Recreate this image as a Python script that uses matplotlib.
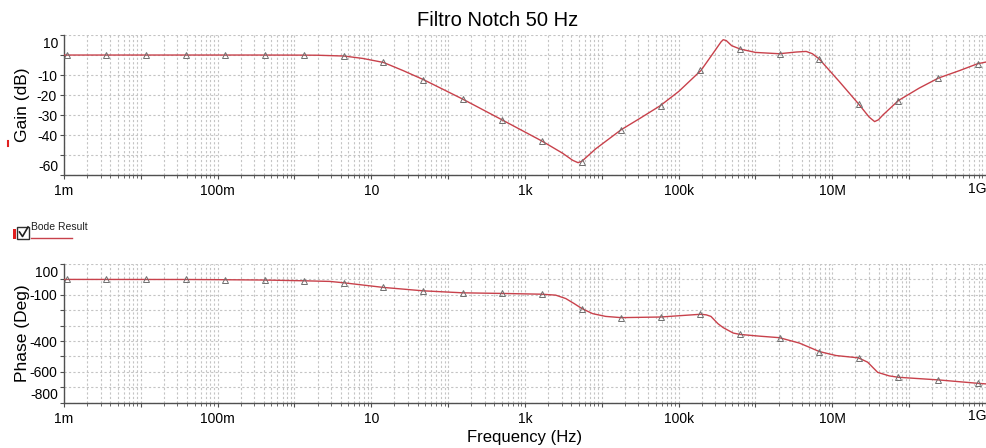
import matplotlib
matplotlib.use('Agg')
import matplotlib.pyplot as plt
from matplotlib.ticker import FixedLocator, FixedFormatter, LogLocator, NullFormatter
import matplotlib.transforms as mtransforms
from matplotlib.lines import Line2D
from matplotlib.patches import Rectangle

plt.rcParams['font.family'] = ['Liberation Sans', 'DejaVu Sans']

# ---------------- data ----------------
gain_freq = [1e-3, 0.316, 1.343, 2.0, 4.41, 7.76, 14.4, 25.7, 47.9, 155, 501, 1660,
             3090, 4170, 4900, 5500, 8320, 17800, 31600, 57500, 1e5, 195000, 282000,
             355000, 380000, 417000, 490000, 631000, 1e6, 2.04e6, 3.39e6, 4.57e6,
             5.5e6, 6.76e6, 1.23e7, 2.19e7, 3.02e7, 3.55e7, 3.98e7, 4.57e7, 7.24e7,
             1.35e8, 2.4e8, 4.57e8, 7.76e8, 1e9]
gain_db = [0, 0, -0.05, -0.1, -0.5, -1.7, -3.7, -7.7, -12.3, -22, -32.3, -42.9,
           -49, -52.5, -53.7, -53, -46.8, -37.3, -31.5, -25.3, -18.2, -7.7, 1.0,
           6.5, 7.65, 7.2, 4.65, 3.0, 1.3, 0.65, 1.5, 1.8,
           0.65, -2.0, -13.2, -24.35, -31, -33.2, -32.3, -29.85, -22.7,
           -16.5, -11.5, -7.7, -4.35, -3.5]

phase_freq = [1e-3, 0.04, 0.126, 0.41, 1.343, 2.88, 4.41, 7.94, 14.4, 47.3, 155, 508,
              1663, 2510, 3390, 4370, 5500, 7590, 11200, 17800, 57500, 195000,
              229000, 263000, 324000, 380000, 513000, 631000, 1.12e6, 2.04e6,
              3.72e6, 5.01e6, 6.76e6, 1.12e7, 2.19e7, 2.88e7, 3.89e7, 5.5e7, 7.24e7,
              2.4e8, 7.76e8, 1e9]
phase_deg = [0, -0.5, -2, -4, -9, -13, -22, -37, -52, -74, -87, -91,
             -96, -102, -124, -157, -189, -222, -240, -248, -244, -226,
             -230, -240, -287, -313, -348, -357, -368, -378,
             -413, -440, -468, -494, -509, -537, -603, -626, -635,
             -652, -674, -678]

marker_freq = [1.084e-3, 3.55e-3, 1.164e-2, 3.82e-2, 0.125, 0.41, 1.343, 4.41, 14.4,
               47.3, 155, 508, 1663, 5458, 17870, 58600, 191900, 629500, 2.06e6,
               6.76e6, 2.213e7, 7.26e7, 2.377e8, 7.80e8]
marker_gain = [0, 0, 0, 0, 0, 0, -0.05, -0.5, -3.7, -12.3, -22, -32.3, -42.9, -53.2,
               -37.3, -25.3, -7.7, 3.0, 0.65, -2.0, -24.35, -22.7, -11.5, -4.35]
marker_phase = [0, 0, 0, -0.5, -2, -4, -9, -22, -52, -74, -87, -91, -96, -189,
                -248, -244, -226, -357, -378, -468, -509, -635, -652, -674]

decade_ticks = [1e-3, 1e-2, 1e-1, 1, 10, 100, 1e3, 1e4, 1e5, 1e6, 1e7, 1e8, 1e9]
decade_labels = ['1m', '', '100m', '', '10', '', '1k', '', '100k', '', '10M', '', '']
last_decade_label = '1G'

gain_grid = [-60, -50, -40, -30, -20, -10, 0, 10]
gain_labels = ['', '', '-40', '-30', '-20', '-10', '', '']
phase_grid = [-800, -700, -600, -500, -400, -300, -200, -100, 0, 100]
phase_labels = ['', '', '-600', '', '-400', '', '', '-100', '', '']

title = 'Filtro Notch 50 Hz'
legend_label = 'Bode Result'

# ---------------- styling ----------------
LINE = '#c8414b'
MARK = '#6e6e6e'
GRID = '#c4c4c4'
SPINE = '#505050'
TICKFS = 10

fig = plt.figure(figsize=(9.87, 4.48), dpi=100)
fig.patch.set_facecolor('white')
ax1 = fig.add_axes([0.0648, 0.6087, 0.9342, 0.3132])
ax2 = fig.add_axes([0.0648, 0.1011, 0.9342, 0.3096])


def style(ax, ygrid, ylabels, ylim):
    ax.set_xscale('log')
    ax.set_xlim(1e-3, 1e9)
    ax.set_ylim(*ylim)
    ax.xaxis.set_major_locator(FixedLocator(decade_ticks))
    ax.xaxis.set_major_formatter(FixedFormatter(decade_labels))
    ax.xaxis.set_minor_locator(LogLocator(base=10, subs=range(2, 10), numticks=100))
    ax.xaxis.set_minor_formatter(NullFormatter())
    ax.yaxis.set_major_locator(FixedLocator(ygrid))
    ax.yaxis.set_major_formatter(FixedFormatter(ylabels))
    ax.grid(which='both', axis='x', linestyle=(0, (2, 2)), color=GRID, lw=0.8)
    ax.grid(which='major', axis='y', linestyle=(0, (2, 2)), color=GRID, lw=0.8)
    for s in ['top', 'right']:
        ax.spines[s].set_visible(False)
    for s in ['left', 'bottom']:
        ax.spines[s].set_color(SPINE)
        ax.spines[s].set_linewidth(1.0)
    ax.tick_params(which='major', length=3, color=SPINE, labelsize=TICKFS)
    ax.tick_params(which='minor', length=2, color=SPINE)
    ax.tick_params(axis='x', pad=3.5)
    ax.tick_params(axis='y', pad=2)
    ax.set_axisbelow(True)
    # right-most decade label kept inside the figure, flush with the axis end
    trx = mtransforms.blended_transform_factory(ax.transData, ax.transAxes)
    ax.text(1e9, -0.047, last_decade_label, transform=trx, ha='right', va='top',
            fontsize=TICKFS)


style(ax1, gain_grid, gain_labels, (-60, 10))
style(ax2, phase_grid, phase_labels, (-800, 100))

# shifted end labels (as in the original, pulled inside the axis range)
tr1 = mtransforms.blended_transform_factory(ax1.transAxes, ax1.transData)
ax1.text(-0.006, 5.3, '10', transform=tr1, ha='right', va='center', fontsize=TICKFS)
ax1.text(-0.006, -56, '-60', transform=tr1, ha='right', va='center', fontsize=TICKFS)
tr2 = mtransforms.blended_transform_factory(ax2.transAxes, ax2.transData)
ax2.text(-0.006, 43, '100', transform=tr2, ha='right', va='center', fontsize=TICKFS)
ax2.text(-0.006, -748, '-800', transform=tr2, ha='right', va='center', fontsize=TICKFS)

ax1.plot(gain_freq, gain_db, color=LINE, lw=1.0, zorder=3)
ax1.plot(marker_freq, marker_gain, linestyle='none', marker='^', ms=4.5,
         mfc='none', mec=MARK, mew=0.7, zorder=4)
ax2.plot(phase_freq, phase_deg, color=LINE, lw=1.0, zorder=3)
ax2.plot(marker_freq, marker_phase, linestyle='none', marker='^', ms=4.5,
         mfc='none', mec=MARK, mew=0.7, zorder=4)

ax1.set_ylabel('Gain (dB)', fontsize=12.5)
ax2.set_ylabel('Phase (Deg)', fontsize=12.5)
ax2.set_xlabel('Frequency (Hz)', fontsize=12, labelpad=3)
ax1.yaxis.set_label_coords(-0.037, 0.5)
ax2.yaxis.set_label_coords(-0.037, 0.5)

fig.text(498 / 987, 1 - 20 / 448, title, ha='center', va='center', fontsize=14.5)

# legend: checkbox + label + red sample line
W, H = 987, 448
def fx(px):
    return px / W
def fy(py):
    return 1 - py / H

fig.patches.append(Rectangle((fx(17), fy(239)), 12 / W, 12 / H, transform=fig.transFigure,
                             fill=False, edgecolor='#303030', lw=1.0))
fig.lines.append(Line2D([fx(19.5), fx(22.5), fx(28)], [fy(232), fy(236.5), fy(227)],
                        transform=fig.transFigure, color='#202020', lw=1.2))
fig.patches.append(Rectangle((fx(13), fy(239)), 2.5 / W, 10 / H, transform=fig.transFigure,
                             facecolor='#e02020', edgecolor='none'))
fig.text(fx(31), fy(227), legend_label, ha='left', va='center', fontsize=7.5, color='#202020')
fig.lines.append(Line2D([fx(31), fx(72)], [fy(237.5), fy(237.5)], transform=fig.transFigure,
                        color=LINE, lw=1.0))
# small red mark at the left edge of the gain pane
fig.lines.append(Line2D([fx(8), fx(8)], [fy(141), fy(146)], transform=fig.transFigure,
                        color='#e02020', lw=1.5))

fig.savefig('out.png', dpi=100, facecolor='white')
